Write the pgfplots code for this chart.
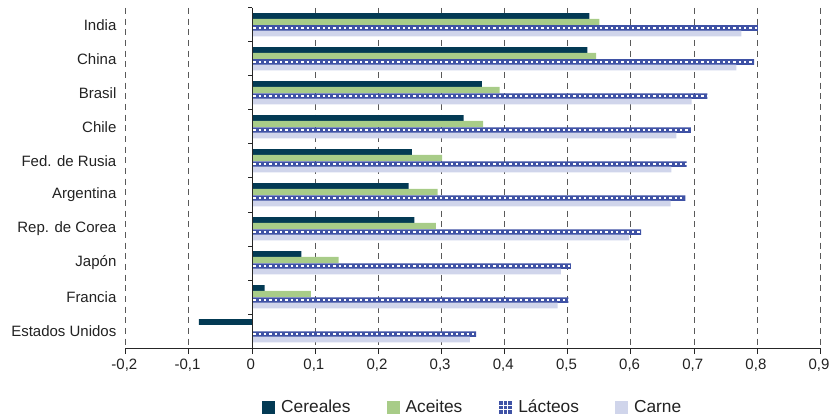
\documentclass[border=0pt]{standalone}
\usepackage{fontspec}
\setmainfont{Liberation Sans}
\usepackage{pgfplots}
\pgfplotsset{compat=1.18}

\definecolor{cereales}{RGB}{3,58,84}
\definecolor{aceites}{RGB}{168,204,136}
\definecolor{lacteos}{RGB}{63,82,165}
\definecolor{carne}{RGB}{208,213,235}
\definecolor{txt}{RGB}{34,34,34}

\pgfplotstableread{
k   cer     ace    lac    car
0   0.534   0.550  0.801  0.775
1   0.531   0.545  0.795  0.767
2   0.364   0.392  0.721  0.696
3   0.335   0.366  0.695  0.672
4   0.253   0.301  0.688  0.664
5   0.248   0.294  0.686  0.663
6   0.257   0.291  0.616  0.597
7   0.078   0.137  0.505  0.489
8   0.020   0.093  0.501  0.484
9   -0.084  nan    0.355  0.345
}\datos

\begin{document}
\begin{tikzpicture}
\path[use as bounding box] (-94.3pt,-51.75pt) rectangle (531.2pt,261pt);
\begin{axis}[
    scale only axis,
    width=521pt, height=255pt,
    xbar, bar width=0.175,
    xmin=-0.2, xmax=0.9,
    ymin=-0.5, ymax=9.5,
    y dir=reverse,
    axis x line*=bottom,
    axis y line*=left,
    x axis line style={-, black!85, line width=0.75pt},
    y axis line style={draw=none},
    xtick={-0.2,-0.1,0,0.1,0.2,0.3,0.4,0.5,0.6,0.7,0.8,0.9},
    xticklabels={{-0,2},{-0,1},0,{0,1},{0,2},{0,3},{0,4},{0,5},{0,6},{0,7},{0,8},{0,9}},
    ytick={0,1,2,3,4,5,6,7,8,9},
    yticklabels={India,China,Brasil,Chile,Fed. de Rusia,Argentina,Rep. de Corea,Japón,Francia,Estados Unidos},
    xtick align=outside,
    major tick length=4.5pt,
    xtick style={black!85, line width=0.75pt},
    ytick style={draw=none},
    ticklabel style={font=\fontsize{11.25}{13}\selectfont, text=txt},
    xticklabel style={xshift=-1pt},
    yticklabel style={xshift=1pt},
    xmajorgrids,
    major grid style={black!65, line width=0.75pt, dash pattern=on 4.5pt off 3.5pt},
    legend columns=4,
    legend style={at={(axis description cs:0.5,0)}, anchor=center, yshift=-44.6pt,
        draw=none, fill=none, font=\fontsize{13}{15}\selectfont, text=txt,
        /tikz/every odd column/.append style={column sep=2.5pt},
        /tikz/every even column/.append style={column sep=25pt}},
    legend image code/.code={\path[#1, draw=none] (0pt,-4.9pt) rectangle (9.75pt,4.9pt);},
]
\addplot[fill=cereales, draw=none, bar shift=-0.265] table[x=cer, y=k] {\datos};
\addplot[fill=aceites, draw=none, bar shift=-0.09] table[x=ace, y=k] {\datos};
\addplot[fill=lacteos, draw=none, bar shift=0.09, bar width=0.165,
    legend image code/.code={
        \fill[lacteos] (0pt,-4.9pt) rectangle (9.75pt,4.9pt);
        \draw[white, line width=0.7pt] (3.25pt,-4.9pt) -- (3.25pt,4.9pt)
            (6.5pt,-4.9pt) -- (6.5pt,4.9pt)
            (0pt,-1.63pt) -- (9.75pt,-1.63pt)
            (0pt,1.63pt) -- (9.75pt,1.63pt);}
    ] table[x=lac, y=k] {\datos};
\addplot[fill=carne, draw=none, bar shift=0.25] table[x=car, y=k] {\datos};
\legend{Cereales,Aceites,Lácteos,Carne}
% white dots along the dairy bars
\addplot[forget plot, xcomb, mark=none, draw=white, line width=1.8pt,
    dash pattern=on 1.8pt off 2.2pt, dash phase=3pt, yshift=-2.3pt]
    table[x=lac, y=k] {\datos};
\draw[black!85, line width=0.75pt] (axis cs:0,-0.5) -- (axis cs:0,9.5);
\pgfplotsinvokeforeach{-0.5,0.5,1.5,2.5,3.5,4.5,5.5,6.5,7.5,8.5,9.5}{
    \draw[black!85, line width=0.75pt] (axis cs:0,#1) -- ++(-3pt,0pt);
}
\end{axis}
\end{tikzpicture}
\end{document}
